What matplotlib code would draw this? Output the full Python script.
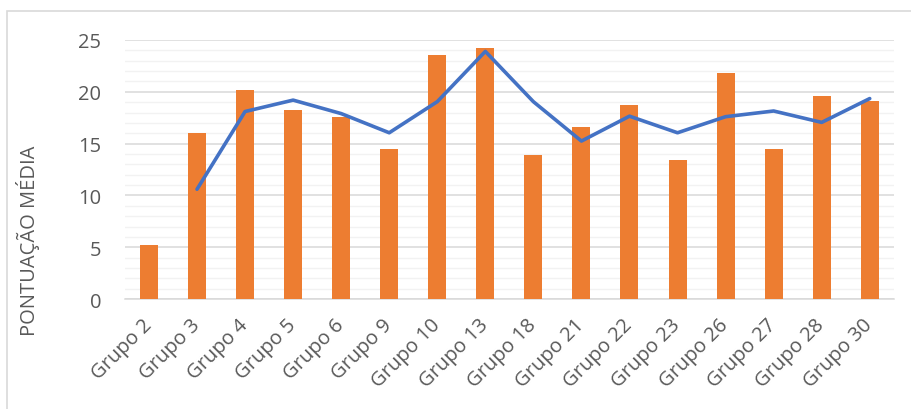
import matplotlib
matplotlib.use("Agg")
import matplotlib.pyplot as plt
from matplotlib.patches import Rectangle
from matplotlib.ticker import MultipleLocator

grupos = ["Grupo 2", "Grupo 3", "Grupo 4", "Grupo 5", "Grupo 6", "Grupo 9",
          "Grupo 10", "Grupo 13", "Grupo 18", "Grupo 21", "Grupo 22",
          "Grupo 23", "Grupo 26", "Grupo 27", "Grupo 28", "Grupo 30"]
pontuacao = [5.2, 16.0, 20.2, 18.2, 17.6, 14.5, 23.6, 24.2,
             13.9, 16.6, 18.7, 13.4, 21.8, 14.5, 19.6, 19.1]
# media movel de 2 periodos (linha de tendencia)
media_movel = [None, 10.6, 18.1, 19.2, 17.9, 16.05, 19.05, 23.9,
               19.05, 15.25, 17.65, 16.05, 17.6, 18.15, 17.05, 19.35]

plt.rcParams["font.family"] = ["Open Sans", "DejaVu Sans"]
texto = "#595959"

fig = plt.figure(figsize=(9.12, 4.10), dpi=100)
ax = fig.add_axes([0.137, 0.268, 0.843, 0.632])

x = list(range(len(grupos)))
ax.bar(x, pontuacao, width=0.375, color="#ED7D31", zorder=3)

xs = [i for i, v in zip(x, media_movel) if v is not None]
ys = [v for v in media_movel if v is not None]
ax.plot(xs, ys, color="#4472C4", linewidth=2.6, zorder=4, solid_capstyle="round")

ax.set_xlim(-0.5, len(grupos) - 0.5)
ax.set_ylim(0, 25)
ax.yaxis.set_major_locator(MultipleLocator(5))
ax.yaxis.set_minor_locator(MultipleLocator(1))
ax.grid(axis="y", which="major", color="#D9D9D9", linewidth=1.1, zorder=1)
ax.grid(axis="y", which="minor", color="#F2F2F2", linewidth=1.0, zorder=0)

for lado in ["top", "right", "left"]:
    ax.spines[lado].set_visible(False)
ax.spines["bottom"].set_color("#D9D9D9")
ax.spines["bottom"].set_linewidth(1.1)

ax.tick_params(axis="both", which="both", length=0, labelsize=14.5, labelcolor=texto)
ax.tick_params(axis="y", pad=17)
ax.set_xticks(x)
ax.set_xticklabels(grupos, rotation=45, ha="right", va="center",
                   rotation_mode="anchor")
ax.tick_params(axis="x", pad=16)

ax.set_ylabel("PONTUAÇÃO MÉDIA", fontsize=14.5, color=texto)
ax.yaxis.set_label_coords(-0.11, 0.228)

# moldura do grafico
fig.patches.append(Rectangle((7 / 912, -0.1), 1.2, 1 - 12 / 410 + 0.1,
                             transform=fig.transFigure, fill=False,
                             edgecolor="#D9D9D9", linewidth=1.2))

fig.savefig("out.png", dpi=100, facecolor="white")
